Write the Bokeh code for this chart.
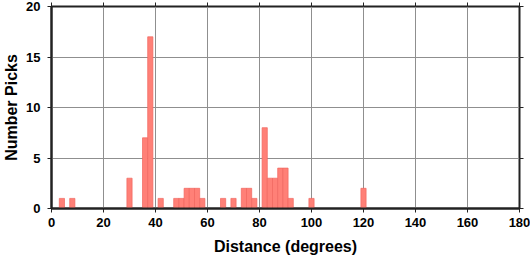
from bokeh.plotting import figure
from bokeh.models import LinearAxis, FixedTicker, Range1d, ColumnDataSource
from bokeh.embed import file_html
from bokeh.resources import INLINE

# Histogram of pick distances (2-degree bins, centred on even degrees)
bin_centers = [4, 8, 30, 36, 38, 42, 48, 50, 52, 54, 56, 58, 66, 70, 74, 76, 78,
               82, 84, 86, 88, 90, 92, 100, 120]
counts = [1, 1, 3, 7, 17, 1, 1, 1, 2, 2, 2, 1, 1, 1, 2, 2, 1,
          8, 3, 3, 4, 4, 1, 1, 2]
bin_width = 2
x_ticks = list(range(0, 181, 20))
y_ticks = [0, 5, 10, 15, 20]

src = ColumnDataSource(dict(
    left=[c - bin_width / 2 for c in bin_centers],
    right=[c + bin_width / 2 for c in bin_centers],
    top=counts,
    bottom=[0] * len(counts),
))

FONT = "Liberation Sans"

p = figure(width=530, height=258, output_backend="svg", toolbar_location=None,
           x_range=Range1d(0, 180), y_range=Range1d(0, 20),
           min_border_left=51, min_border_right=11, min_border_top=6,
           min_border_bottom=50)
p.background_fill_color = "white"
p.border_fill_color = "white"
p.outline_line_color = "#222222"
p.outline_line_width = 2

p.quad(left="left", right="right", top="top", bottom="bottom", source=src,
       fill_color="#FF8077", line_color="#F0665E", line_width=0.7)

for ax in (p.xaxis[0], p.yaxis[0]):
    ax.axis_line_color = "#222222"
    ax.axis_line_width = 2
    ax.major_tick_line_color = "#222222"
    ax.major_tick_line_width = 1
    ax.major_tick_out = 4
    ax.major_tick_in = 0
    ax.minor_tick_line_color = None
    ax.major_label_text_font = FONT
    ax.major_label_text_font_style = "bold"
    ax.major_label_text_font_size = "13px"
    ax.major_label_text_color = "black"
    ax.axis_label_text_font = FONT
    ax.axis_label_text_font_style = "bold"
    ax.axis_label_text_font_size = "16px"
    ax.axis_label_text_color = "black"

p.xaxis[0].ticker = FixedTicker(ticks=x_ticks)
p.yaxis[0].ticker = FixedTicker(ticks=y_ticks)
p.xaxis[0].axis_label = "Distance (degrees)"
p.yaxis[0].axis_label = "Number Picks"
p.xaxis[0].major_label_standoff = 5
p.xaxis[0].axis_label_standoff = 8
p.yaxis[0].major_label_standoff = 7
p.yaxis[0].axis_label_standoff = 3

# tick-only axes on top and right (labels not painted)
for loc, ticks in (("above", x_ticks), ("right", y_ticks)):
    a = LinearAxis(ticker=FixedTicker(ticks=ticks))
    a.axis_line_color = None
    a.major_tick_line_color = "#222222"
    a.major_tick_out = 4
    a.major_tick_in = 0
    a.minor_tick_line_color = None
    a.major_label_text_font_size = "1px"
    a.major_label_text_color = None
    a.major_label_standoff = 0
    p.add_layout(a, loc)

p.xgrid.ticker = FixedTicker(ticks=x_ticks)
p.ygrid.ticker = FixedTicker(ticks=y_ticks)
for g in (p.xgrid[0], p.ygrid[0]):
    g.grid_line_color = "#8f8f8f"
    g.grid_line_width = 1

open("out.html", "w").write(file_html(p, INLINE))
